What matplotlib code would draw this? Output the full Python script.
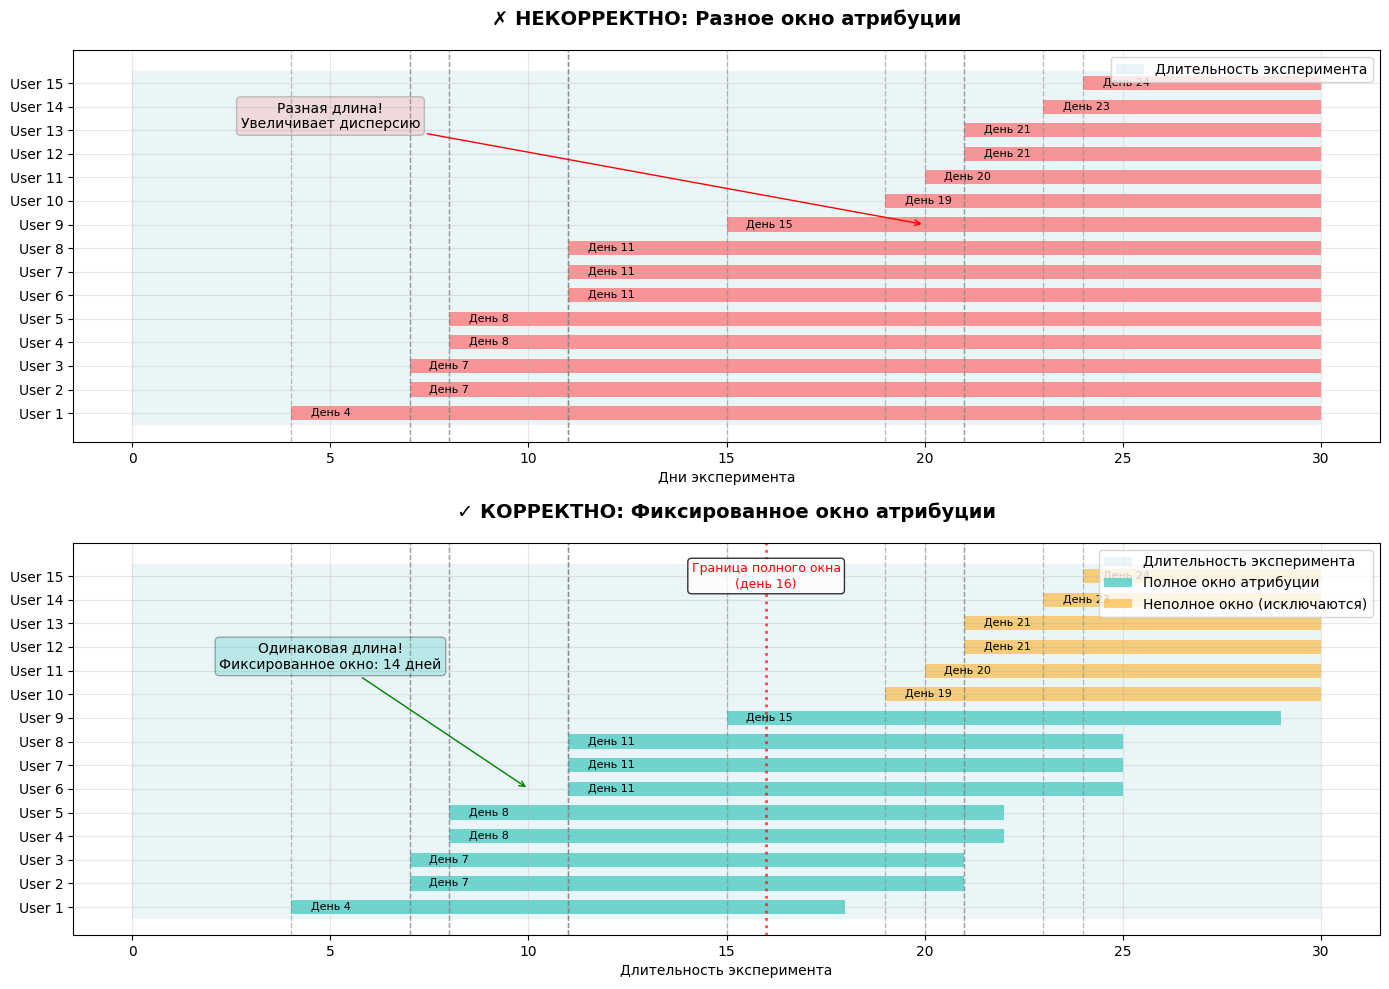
import matplotlib
matplotlib.use('Agg')
from matplotlib import pyplot as plt

# Данные
users = [f'User {i}' for i in range(1, 16)]
start_days = [4, 7, 7, 8, 8, 11, 11, 11, 15, 19, 20, 21, 21, 23, 24]
experiment_days = 30
window = 14

positions = list(range(1, len(users) + 1))

fig, (ax1, ax2) = plt.subplots(2, 1, figsize=(13.89, 9.89))

# --- Некорректно: разное окно ---
ax1.barh(8, experiment_days, left=0, height=15, color='lightblue', alpha=0.25,
		 label='Длительность эксперимента')
for pos, start in zip(positions, start_days):
	ax1.barh(pos, experiment_days - start, left=start, height=0.6, color='#FF6B6B', alpha=0.7)
	ax1.text(start + 0.5, pos, f'День {start}', va='center', ha='left', fontsize=8)
	ax1.axvline(start, color='gray', linestyle='--', alpha=0.5, linewidth=1)

ax1.annotate('Разная длина!\nУвеличивает дисперсию', xy=(20, 9), xytext=(5, 13.6),
			 ha='center', va='center', fontsize=10,
			 bbox=dict(boxstyle='round', facecolor='#FF6B6B', alpha=0.2),
			 arrowprops=dict(arrowstyle='->', color='red'))

ax1.set_yticks(positions)
ax1.set_yticklabels(users)
ax1.set_ylim(-0.23, 16.4)
ax1.set_xlim(-1.5, 31.5)
ax1.set_xlabel('Дни эксперимента')
ax1.set_title('✗ НЕКОРРЕКТНО: Разное окно атрибуции', fontsize=14, fontweight='bold', pad=18)
ax1.legend(loc='upper right')
ax1.grid(True, alpha=0.3)

# --- Корректно: фиксированное окно ---
ax2.barh(8, experiment_days, left=0, height=15, color='lightblue', alpha=0.25,
		 label='Длительность эксперимента')
full_done = False
part_done = False
for pos, start in zip(positions, start_days):
	if start + window <= experiment_days:
		lbl = 'Полное окно атрибуции' if not full_done else None
		full_done = True
		ax2.barh(pos, window, left=start, height=0.6, color='#4ECDC4', alpha=0.8, label=lbl)
	else:
		lbl = 'Неполное окно (исключаются)' if not part_done else None
		part_done = True
		ax2.barh(pos, experiment_days - start, left=start, height=0.6, color='orange', alpha=0.5, label=lbl)
	ax2.text(start + 0.5, pos, f'День {start}', va='center', ha='left', fontsize=8)
	ax2.axvline(start, color='gray', linestyle='--', alpha=0.5, linewidth=1)

cutoff = experiment_days - window
ax2.axvline(cutoff, color='red', linestyle=':', linewidth=2, alpha=0.7)
ax2.text(cutoff, 15, f'Граница полного окна\n(день {cutoff})', ha='center', va='center',
		 fontsize=9, color='red',
		 bbox=dict(boxstyle='round', facecolor='white', edgecolor='black', alpha=0.8))

ax2.annotate('Одинаковая длина!\nФиксированное окно: 14 дней', xy=(10, 6), xytext=(5, 11.6),
			 ha='center', va='center', fontsize=10,
			 bbox=dict(boxstyle='round', facecolor='#4ECDC4', alpha=0.3),
			 arrowprops=dict(arrowstyle='->', color='green'))

ax2.set_yticks(positions)
ax2.set_yticklabels(users)
ax2.set_ylim(-0.18, 16.4)
ax2.set_xlim(-1.5, 31.5)
ax2.set_xlabel('Длительность эксперимента')
ax2.set_title('✓ КОРРЕКТНО: Фиксированное окно атрибуции', fontsize=14, fontweight='bold', pad=18)
ax2.legend(loc='upper right')
ax2.grid(True, alpha=0.3)

fig.subplots_adjust(left=0.0526, right=0.9935, top=0.9494, bottom=0.0546, hspace=0.257)
fig.savefig('out.png', dpi=100)
